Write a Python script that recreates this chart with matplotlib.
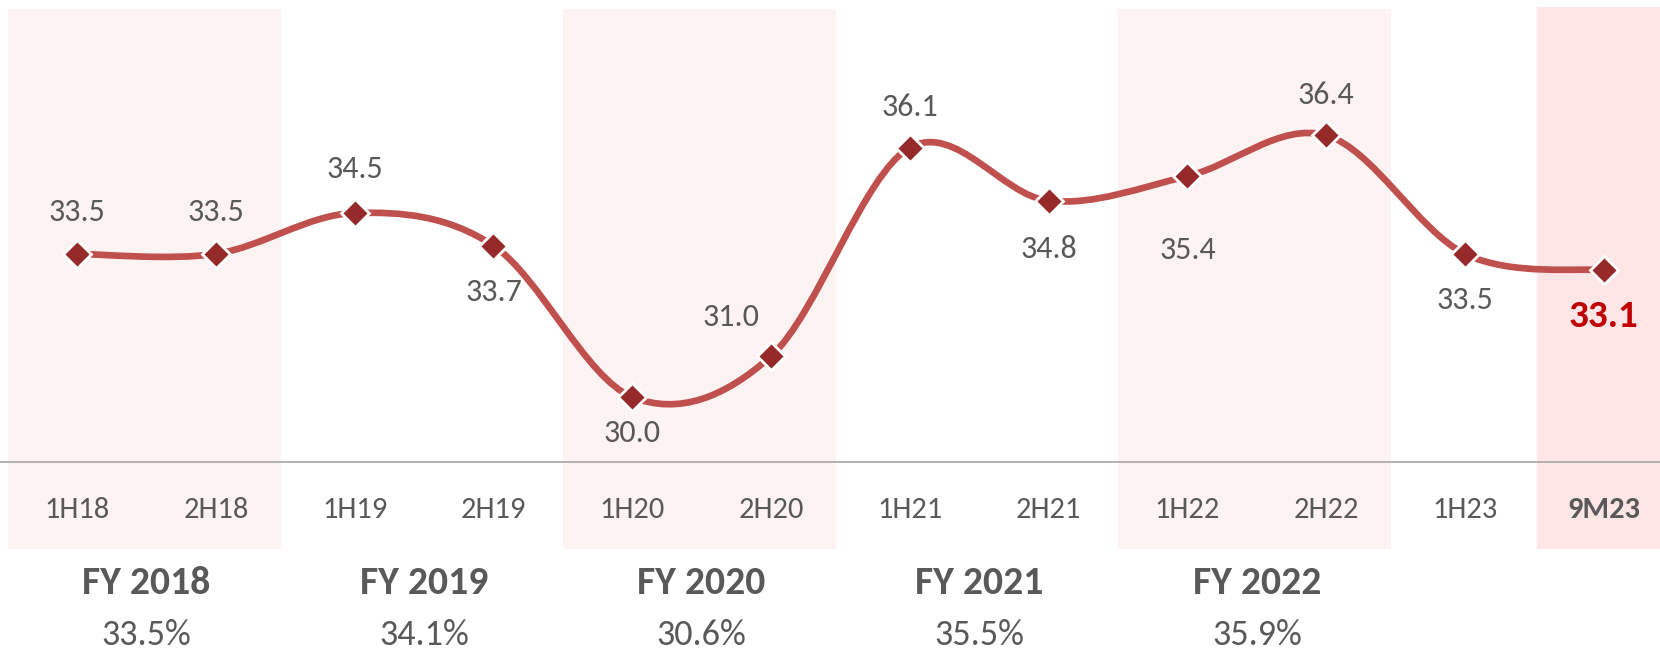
import numpy as np
import matplotlib.pyplot as plt
from matplotlib.path import Path
from matplotlib.patches import PathPatch, Rectangle
import matplotlib.transforms as mtransforms

plt.rcParams['font.family'] = ['Carlito', 'Lato', 'DejaVu Sans']

periods = ['1H18', '2H18', '1H19', '2H19', '1H20', '2H20',
           '1H21', '2H21', '1H22', '2H22', '1H23', '9M23']
values = [33.5, 33.5, 34.5, 33.7, 30.0, 31.0, 36.1, 34.8, 35.4, 36.4, 33.5, 33.1]
labels = ['33.5', '33.5', '34.5', '33.7', '30.0', '31.0',
          '36.1', '34.8', '35.4', '36.4', '33.5', '33.1']
fy_names = ['FY 2018', 'FY 2019', 'FY 2020', 'FY 2021', 'FY 2022']
fy_values = ['33.5%', '34.1%', '30.6%', '35.5%', '35.9%']

grey = '#595959'
line_col = '#C0504D'
mark_col = '#962A2A'

fig = plt.figure(figsize=(16.6, 6.51), dpi=100)
ax = fig.add_axes([0, 0.2903, 1, 0.7097])
ax.set_xlim(-0.555, 11.405)
ax.set_ylim(28.41, 39.71)

# shaded year bands (extend below the axis line, behind tick labels)
trans = mtransforms.blended_transform_factory(ax.transData, ax.transAxes)
for k in [0, 2, 4]:
    ax.add_patch(Rectangle((2 * k - 0.5, -0.188), 1.97, 0.9805 + 0.188,
                           transform=trans, facecolor='#FEF3F3',
                           edgecolor='none', clip_on=False, zorder=0))
ax.add_patch(Rectangle((10.52, -0.188), 1.2, 0.9805 + 0.188 + 0.004,
                       transform=trans, facecolor='#FEE6E6',
                       edgecolor='none', clip_on=False, zorder=0))

# smoothed line (Catmull-Rom -> cubic bezier, like Excel's smoothed line)
x = np.arange(len(values), dtype=float)
y = np.array(values)
pts = np.column_stack([x, y])
verts = [pts[0]]
codes = [Path.MOVETO]
n = len(pts)
for i in range(n - 1):
    p0 = pts[i - 1] if i > 0 else pts[i]
    p1 = pts[i]
    p2 = pts[i + 1]
    p3 = pts[i + 2] if i + 2 < n else pts[i + 1]
    c1 = p1 + (p2 - p0) / 6.0
    c2 = p2 - (p3 - p1) / 6.0
    verts += [c1, c2, p2]
    codes += [Path.CURVE4] * 3
ax.add_patch(PathPatch(Path(verts, codes), facecolor='none',
                       edgecolor=line_col, lw=4.8, capstyle='round', zorder=2))
ax.plot(x, y, ls='none', marker='D', ms=14, mfc=mark_col, mec='white',
        mew=2, zorder=3)

# data labels (offsets in points)
offsets = [(0, 30), (0, 30), (0, 32), (0, -33), (0, -26), (-29, 28),
           (0, 29), (0, -35), (0, -53), (0, 29), (0, -33), (0, -33)]
for i, (lab, off) in enumerate(zip(labels, offsets)):
    last = i == len(labels) - 1
    ax.annotate(lab, (x[i], y[i]), xytext=off, textcoords='offset points',
                ha='center', va='center',
                fontsize=28 if last else 23,
                fontweight='bold' if last else 'normal',
                color='#C00000' if last else grey)

ax.set_xticks(x)
ax.set_xticklabels(periods, fontsize=22, color=grey)
ax.get_xticklabels()[-1].set_fontweight('bold')
ax.tick_params(axis='x', length=0, pad=25)
ax.set_yticks([])
for s in ['top', 'left', 'right']:
    ax.spines[s].set_visible(False)
ax.spines['bottom'].set_color('#A6A6A6')
ax.spines['bottom'].set_linewidth(1.2)
ax.patch.set_alpha(0)

# fiscal year summaries
for k, (nm, val) in enumerate(zip(fy_names, fy_values)):
    xc = 2 * k + 0.5
    ax.text(xc, -0.262, nm, transform=trans, ha='center', va='center',
            fontsize=28.5, fontweight='bold', color=grey)
    ax.text(xc, -0.374, val, transform=trans, ha='center', va='center',
            fontsize=26, color=grey)

fig.savefig('out.png', dpi=100)
